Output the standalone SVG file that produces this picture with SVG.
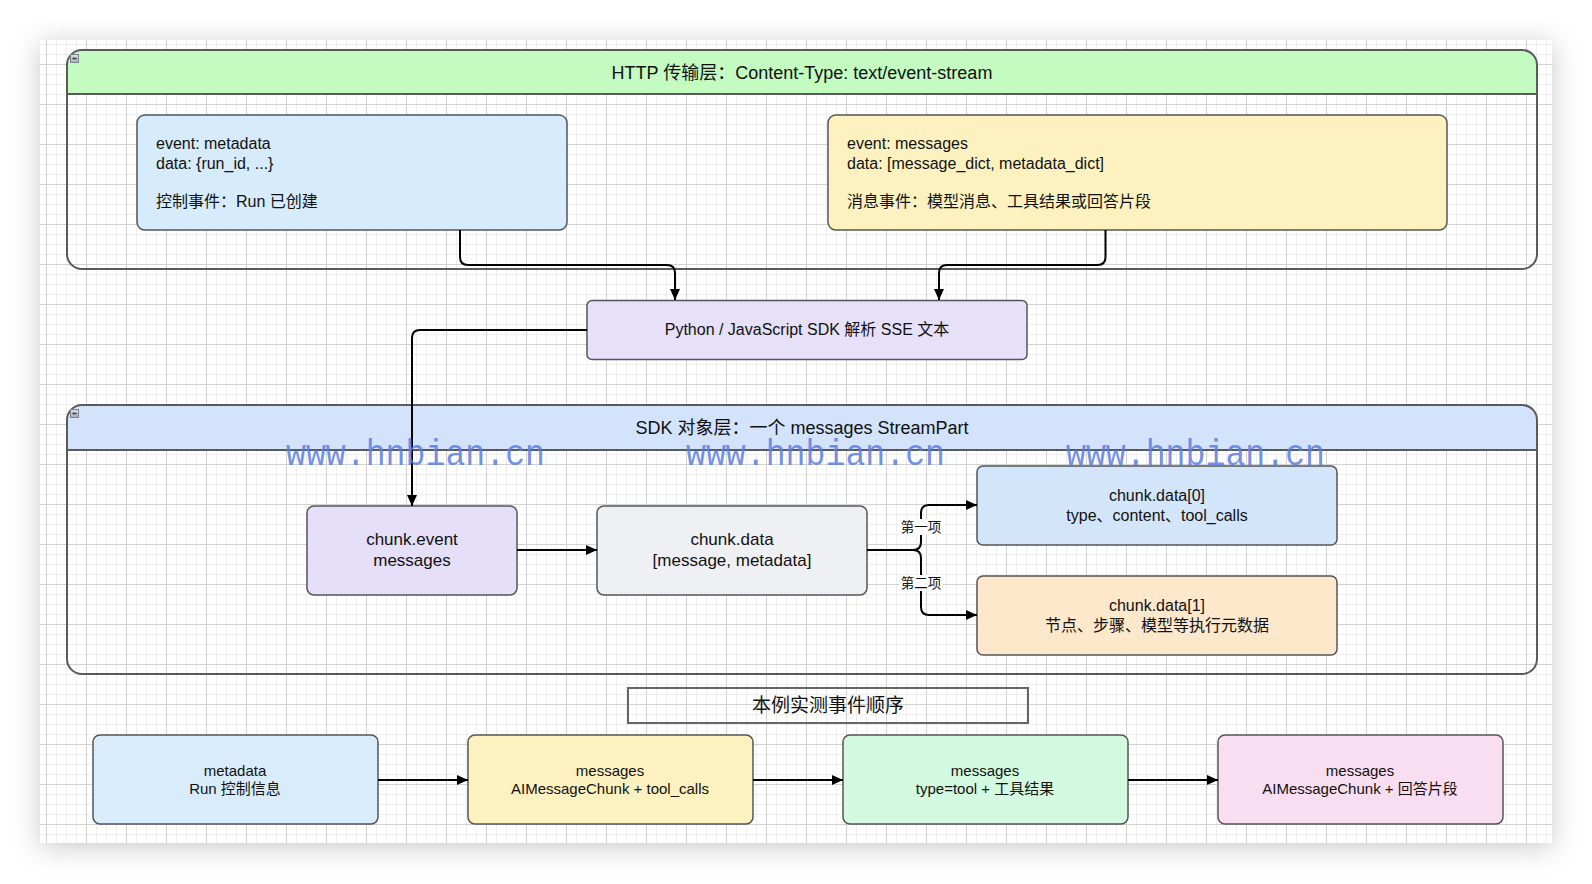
<svg xmlns="http://www.w3.org/2000/svg" width="1592" height="884" viewBox="0 0 1592 884">
<defs>
  <pattern id="minor" width="10" height="10" patternUnits="userSpaceOnUse" x="6" y="4">
    <path d="M0.5,0 V10 M0,0.5 H10" stroke="#eeeeee" stroke-width="1" fill="none"/>
  </pattern>
  <pattern id="major" width="40" height="40" patternUnits="userSpaceOnUse" x="6" y="24">
    <path d="M0.5,0 V40 M0,0.5 H40" stroke="#d2d2d2" stroke-width="1" fill="none"/>
  </pattern>
  <filter id="shadow" x="-10%" y="-10%" width="120%" height="120%">
    <feDropShadow dx="0" dy="4" stdDeviation="14" flood-color="#000" flood-opacity="0.22"/>
  </filter>
  <marker id="arr" markerWidth="12" markerHeight="10" refX="11" refY="5" orient="auto" markerUnits="userSpaceOnUse">
    <path d="M0,0 L11,5 L0,10 Z" fill="#000"/>
  </marker>
  <linearGradient id="icon" x1="0" y1="0" x2="0" y2="1">
    <stop offset="0" stop-color="#d9dce3"/>
    <stop offset="1" stop-color="#a9aeb8"/>
  </linearGradient>
</defs>
<style>
  text { font-family: "Liberation Sans", "Noto Sans CJK SC", sans-serif; fill: #111; }
  .c { text-anchor: middle; }
  .hdr { font-size: 18px; }
  .t15 { font-size: 16px; }
  .t16 { font-size: 17px; }
  .t14 { font-size: 15px; }
  .lbl { font-size: 13.5px; }
  .box { stroke: #555; stroke-width: 1.5; }
  .cont { fill: none; stroke: #5a5a5a; stroke-width: 2; }
  .edge { fill: none; stroke: #000; stroke-width: 2; }
  .wm { font-family: "Liberation Mono", "DejaVu Sans Mono", monospace; font-size: 36px; fill: #5b7de0; fill-opacity: 0.85; }
</style>

<rect x="0" y="0" width="1592" height="884" fill="#ffffff"/>
<rect x="40" y="40" width="1512" height="803" fill="#ffffff" filter="url(#shadow)"/>
<rect x="40" y="40" width="1512" height="803" fill="url(#minor)"/>
<rect x="40" y="40" width="1512" height="803" fill="url(#major)"/>

<g id="http-layer">
  <path d="M67,94 V65 Q67,50 82,50 H1522 Q1537,50 1537,65 V94 Z" fill="#c4fbc0"/>
  <path d="M67,94 H1537" stroke="#5a5a5a" stroke-width="2"/>
  <rect class="cont" x="67" y="50" width="1470" height="219" rx="15"/>
  <rect x="70.5" y="54.5" width="8" height="8" fill="url(#icon)" stroke="#7c8290" stroke-width="1"/>
  <path d="M72.5,58.5 H76.5" stroke="#333" stroke-width="1.5"/>
  <text class="hdr c" x="802" y="79">HTTP 传输层：Content-Type: text/event-stream</text>
</g>

<g id="sdk-layer">
  <path d="M67,450 V420 Q67,405 82,405 H1522 Q1537,405 1537,420 V450 Z" fill="#d2e3fb"/>
  <path d="M67,450 H1537" stroke="#5a5a5a" stroke-width="2"/>
  <rect class="cont" x="67" y="405" width="1470" height="269" rx="15"/>
  <rect x="70.5" y="409.5" width="8" height="8" fill="url(#icon)" stroke="#7c8290" stroke-width="1"/>
  <path d="M72.5,413.5 H76.5" stroke="#333" stroke-width="1.5"/>
  <text class="hdr c" x="802" y="434">SDK 对象层：一个 messages StreamPart</text>
</g>

<g id="evt-metadata">
  <rect class="box" x="137" y="115" width="430" height="115" rx="8" fill="#d6ebfb"/>
  <text class="t15" x="156" y="149">event: metadata</text>
  <text class="t15" x="156" y="169">data: {run_id, ...}</text>
  <text class="t15" x="156" y="207">控制事件：Run 已创建</text>
</g>

<g id="evt-messages">
  <rect class="box" x="828" y="115" width="619" height="115" rx="8" fill="#fdf1c0"/>
  <text class="t15" x="847" y="149">event: messages</text>
  <text class="t15" x="847" y="169">data: [message_dict, metadata_dict]</text>
  <text class="t15" x="847" y="207">消息事件：模型消息、工具结果或回答片段</text>
</g>

<g id="sdk-parse">
  <rect class="box" x="587" y="300.5" width="440" height="59" rx="5" fill="#e6e0f9"/>
  <text class="t15 c" x="807" y="335">Python / JavaScript SDK 解析 SSE 文本</text>
</g>

<g id="chunk-event">
  <rect class="box" x="307" y="506" width="210" height="89" rx="7" fill="#e5dffa"/>
  <text class="t16 c" x="412" y="545">chunk.event</text>
  <text class="t16 c" x="412" y="566">messages</text>
</g>

<g id="chunk-data">
  <rect class="box" x="597" y="506" width="270" height="89" rx="7" fill="#eff0f4"/>
  <text class="t16 c" x="732" y="545">chunk.data</text>
  <text class="t16 c" x="732" y="566">[message, metadata]</text>
</g>

<g id="chunk-data0">
  <rect class="box" x="977" y="466" width="360" height="79" rx="6" fill="#d3e5fb"/>
  <text class="t15 c" x="1157" y="501">chunk.data[0]</text>
  <text class="t15 c" x="1157" y="521">type、content、tool_calls</text>
</g>

<g id="chunk-data1">
  <rect class="box" x="977" y="576" width="360" height="79" rx="6" fill="#fde8cc"/>
  <text class="t15 c" x="1157" y="611">chunk.data[1]</text>
  <text class="t15 c" x="1157" y="631">节点、步骤、模型等执行元数据</text>
</g>

<g id="order-title">
  <rect x="628" y="688" width="400" height="35" fill="none" stroke="#666" stroke-width="2"/>
  <text class="c" x="828" y="712" style="font-size:19px">本例实测事件顺序</text>
</g>

<g id="seq-1">
  <rect class="box" x="93" y="735" width="285" height="89" rx="7" fill="#d8ecfb"/>
  <text class="t14 c" x="235" y="776">metadata</text>
  <text class="t14 c" x="235" y="794">Run 控制信息</text>
</g>
<g id="seq-2">
  <rect class="box" x="468" y="735" width="285" height="89" rx="7" fill="#fdf1c0"/>
  <text class="t14 c" x="610" y="776">messages</text>
  <text class="t14 c" x="610" y="794">AIMessageChunk + tool_calls</text>
</g>
<g id="seq-3">
  <rect class="box" x="843" y="735" width="285" height="89" rx="7" fill="#d3f9e0"/>
  <text class="t14 c" x="985" y="776">messages</text>
  <text class="t14 c" x="985" y="794">type=tool + 工具结果</text>
</g>
<g id="seq-4">
  <rect class="box" x="1218" y="735" width="285" height="89" rx="7" fill="#f9ddf0"/>
  <text class="t14 c" x="1360" y="776">messages</text>
  <text class="t14 c" x="1360" y="794">AIMessageChunk + 回答片段</text>
</g>

<g id="connectors">
  <path class="edge" d="M460,230 V257 Q460,265 468,265 H667 Q675,265 675,273 V300" marker-end="url(#arr)"/>
  <path class="edge" d="M1105.5,230 V257 Q1105.5,265 1097.5,265 H947 Q939,265 939,273 V300" marker-end="url(#arr)"/>
  <path class="edge" d="M587,330 H420 Q412,330 412,338 V506" marker-end="url(#arr)"/>
  <path class="edge" d="M517,550 H597" marker-end="url(#arr)"/>
  <path class="edge" d="M867,550 H913 Q921,550 921,542 V513 Q921,505 929,505 H977" marker-end="url(#arr)"/>
  <path class="edge" d="M867,550 H913 Q921,550 921,558 V607 Q921,615 929,615 H977" marker-end="url(#arr)"/>
  <path class="edge" d="M378,780 H468" marker-end="url(#arr)"/>
  <path class="edge" d="M753,780 H843" marker-end="url(#arr)"/>
  <path class="edge" d="M1128,780 H1218" marker-end="url(#arr)"/>
  <rect x="899" y="519" width="44" height="16" fill="#ffffff"/>
  <text class="lbl c" x="921" y="532">第一项</text>
  <rect x="899" y="575" width="44" height="16" fill="#ffffff"/>
  <text class="lbl c" x="921" y="588">第二项</text>
</g>

<g id="watermarks">
  <text class="wm" x="286" y="465" textLength="259" lengthAdjust="spacingAndGlyphs">www.hnbian.cn</text>
  <text class="wm" x="686" y="465" textLength="259" lengthAdjust="spacingAndGlyphs">www.hnbian.cn</text>
  <text class="wm" x="1066" y="465" textLength="259" lengthAdjust="spacingAndGlyphs">www.hnbian.cn</text>
</g>
</svg>
